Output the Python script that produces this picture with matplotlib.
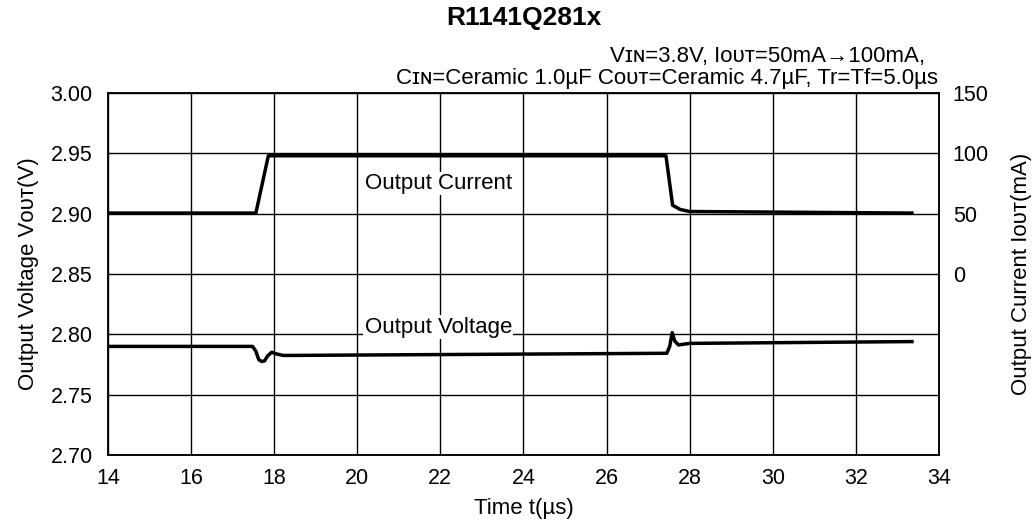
import matplotlib
matplotlib.use("Agg")
import matplotlib.pyplot as plt

plt.rcParams['font.family'] = ['Liberation Sans', 'DejaVu Sans']

# output current (mA) vs time (us)
t_cur = [14.0, 17.56, 17.86, 27.43, 27.59, 27.77, 28.0, 33.35]
i_cur = [50.5, 50.5, 98.0, 98.0, 57.0, 53.5, 51.8, 50.5]

# output voltage (V) vs time (us)
t_vol = [14.0, 17.48, 17.56, 17.63, 17.70, 17.77, 17.84, 17.94, 18.05, 18.22,
         27.45, 27.52, 27.58, 27.64, 27.73, 28.0, 33.35]
v_vol = [2.790, 2.790, 2.786, 2.779, 2.7775, 2.778, 2.782, 2.7852, 2.7838, 2.7825,
         2.7843, 2.790, 2.8014, 2.7945, 2.7912, 2.7925, 2.794]

x_ticks = [14, 16, 18, 20, 22, 24, 26, 28, 30, 32, 34]
v_ticks = [2.70, 2.75, 2.80, 2.85, 2.90, 2.95, 3.00]
i_ticks = [0, 50, 100, 150]

fig = plt.figure(figsize=(10.35, 5.30), dpi=100)
ax = fig.add_axes([0.1043, 0.1415, 0.8029, 0.683])
ax2 = ax.twinx()

ax.set_xlim(14, 34)
ax.set_ylim(2.70, 3.00)
ax2.set_ylim(-150, 150)
ax.set_xticks(x_ticks)
ax.set_yticks(v_ticks)
ax.set_yticklabels(['%.2f' % v for v in v_ticks])
ax2.set_yticks(i_ticks)
ax.grid(True, color='black', lw=1.0)
ax.set_axisbelow(True)

for a in (ax, ax2):
    a.tick_params(length=0, labelsize=15.5)
    for s in a.spines.values():
        s.set_linewidth(1.1)
ax.tick_params(axis='y', pad=11)
ax.tick_params(axis='x', pad=9)
ax2.tick_params(axis='y', pad=10)

ax.plot(t_vol, v_vol, color='black', lw=2.5, solid_joinstyle='round')
ax2.plot(t_cur, i_cur, color='black', lw=2.5, solid_joinstyle='round')

bbox = dict(facecolor='white', edgecolor='none', pad=1.0)
ax.text(21.95, 2.925, 'Output Current', ha='center', va='center', fontsize=16, bbox=bbox, zorder=3)
ax.text(21.95, 2.806, 'Output Voltage', ha='center', va='center', fontsize=16, bbox=bbox, zorder=3)

ax.set_xlabel('Time t(µs)', fontsize=16, labelpad=7)
ax.set_ylabel('Output Voltage V\u1d0f\u1d1c\u1d1b(V)', fontsize=16, labelpad=8)
ax2.set_ylabel('Output Current I\u1d0f\u1d1c\u1d1b(mA)', fontsize=16, labelpad=16)

fig.text(0.5058, 0.966, 'R1141Q281x', ha='center', va='center', fontsize=19, fontweight='bold')
fig.text(0.894, 0.894, 'V\u026a\u0274=3.8V, I\u1d0f\u1d1c\u1d1b=50mA\u2192100mA,', ha='right', va='center', fontsize=16)
fig.text(0.906, 0.852, 'C\u026a\u0274=Ceramic 1.0µF C\u1d0f\u1d1c\u1d1b=Ceramic 4.7µF, Tr=Tf=5.0µs', ha='right', va='center', fontsize=16)

fig.savefig('out.png', dpi=100)
